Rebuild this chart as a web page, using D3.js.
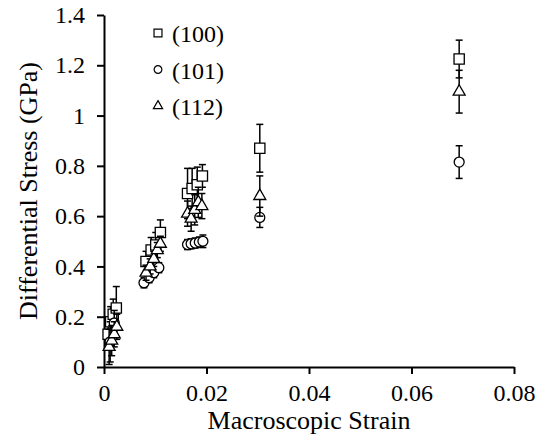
<!DOCTYPE html>
<html>
<head>
<meta charset="utf-8">
<script src="https://cdn.jsdelivr.net/npm/d3@7"></script>
<style>
  body { margin: 0; background: #fff; }
</style>
</head>
<body>
<div id="chart"></div>
<script>
// === DATA ===
const xTicks = [0, 0.02, 0.04, 0.06, 0.08];
const yTicks = [0, 0.2, 0.4, 0.6, 0.8, 1, 1.2, 1.4];

// (100) squares
const strain100 = [0.0008, 0.0013, 0.0018, 0.0024, 0.0082, 0.0092, 0.0101, 0.0110, 0.0163, 0.0172, 0.0182, 0.0192, 0.0304, 0.0693];
const stress100 = [0.13, 0.18, 0.21, 0.235, 0.42, 0.465, 0.485, 0.535, 0.69, 0.71, 0.725, 0.76, 0.87, 1.225];
const err100    = [0.05, 0.06, 0.06, 0.085, 0.04, 0.05, 0.05, 0.05, 0.1, 0.08, 0.07, 0.045, 0.095, 0.075];

// (101) circles
const strain101 = [0.0012, 0.0020, 0.0078, 0.0088, 0.0097, 0.0107, 0.0163, 0.0170, 0.0178, 0.0186, 0.0193, 0.0304, 0.0693];
const stress101 = [0.10, 0.175, 0.335, 0.355, 0.375, 0.395, 0.487, 0.49, 0.493, 0.497, 0.50, 0.595, 0.815];
const err101    = [0.08, 0.05, 0.02, 0.02, 0.02, 0.02, 0.02, 0.02, 0.02, 0.02, 0.025, 0.04, 0.065];

// (112) triangles
const strain112 = [0.0010, 0.0015, 0.0020, 0.0025, 0.0082, 0.0090, 0.0097, 0.0104, 0.0110, 0.0163, 0.0170, 0.0177, 0.0184, 0.0191, 0.0304, 0.0693];
const stress112 = [0.08, 0.105, 0.13, 0.16, 0.375, 0.40, 0.43, 0.465, 0.49, 0.61, 0.59, 0.625, 0.655, 0.64, 0.68, 1.095];
const err112    = [0.07, 0.06, 0.05, 0.05, 0.03, 0.03, 0.03, 0.03, 0.03, 0.05, 0.05, 0.06, 0.06, 0.05, 0.08, 0.085];

const seriesNames = ["(100)", "(101)", "(112)"];
const seriesShapes = [d3.symbolSquare, d3.symbolCircle, d3.symbolTriangle];
const seriesSizes = [105, 78, 62];

const series = [
  {name: seriesNames[0], x: strain100, y: stress100, e: err100},
  {name: seriesNames[1], x: strain101, y: stress101, e: err101},
  {name: seriesNames[2], x: strain112, y: stress112, e: err112}
];

const FONT = "'Liberation Serif', 'Times New Roman', serif";

// === LAYOUT ===
const W = 550, H = 443;
const margin = {top: 15, right: 36, bottom: 76, left: 104};

const svg = d3.select("#chart").append("svg").attr("width", W).attr("height", H);

const x = d3.scaleLinear().domain([0, 0.08]).range([margin.left, W - margin.right]);
const y = d3.scaleLinear().domain([0, 1.4]).range([H - margin.bottom, margin.top]);

// === AXES ===
const xAxis = svg.append("g")
  .attr("transform", `translate(0,${H - margin.bottom})`)
  .call(d3.axisBottom(x).tickValues(xTicks).tickSize(7).tickSizeOuter(0).tickPadding(10)
    .tickFormat(d => d === 0 ? "0" : d3.format(".2f")(d)));
const yAxis = svg.append("g")
  .attr("transform", `translate(${margin.left},0)`)
  .call(d3.axisLeft(y).tickValues(yTicks).tickSize(7).tickSizeOuter(0).tickPadding(12)
    .tickFormat(d => d === 0 || d === 1 ? String(d) : d3.format(".1f")(d)));

[xAxis, yAxis].forEach(g => {
  g.selectAll("path, line").attr("stroke", "#000").attr("stroke-width", 2);
  g.selectAll("text").style("font-family", FONT).style("font-size", "24px").attr("fill", "#000");
});

svg.append("text")
  .attr("x", (margin.left + W - margin.right) / 2)
  .attr("y", 429)
  .attr("text-anchor", "middle")
  .style("font-family", FONT).style("font-size", "26px")
  .text("Macroscopic Strain");

svg.append("text")
  .attr("transform", `translate(37,${(margin.top + H - margin.bottom) / 2}) rotate(-90)`)
  .attr("text-anchor", "middle")
  .style("font-family", FONT).style("font-size", "26px")
  .text("Differential Stress (GPa)");

// === POINTS & ERROR BARS ===
const cap = 3.5;
series.forEach((s, k) => {
  const pts = s.x.map((v, i) => ({x: v, y: s.y[i], e: s.e[i]}));
  const g = svg.append("g");
  const eb = g.selectAll("g.eb").data(pts).join("g").attr("class", "eb")
    .attr("stroke", "#000").attr("stroke-width", 1.5);
  eb.append("line")
    .attr("x1", d => x(d.x)).attr("x2", d => x(d.x))
    .attr("y1", d => y(Math.max(0, d.y - d.e))).attr("y2", d => y(d.y + d.e));
  eb.append("line")
    .attr("x1", d => x(d.x) - cap).attr("x2", d => x(d.x) + cap)
    .attr("y1", d => y(d.y + d.e)).attr("y2", d => y(d.y + d.e));
  eb.append("line")
    .attr("x1", d => x(d.x) - cap).attr("x2", d => x(d.x) + cap)
    .attr("y1", d => y(Math.max(0, d.y - d.e))).attr("y2", d => y(Math.max(0, d.y - d.e)));

  const sym = d3.symbol().type(seriesShapes[k]).size(seriesSizes[k]);
  g.selectAll("path.m").data(pts).join("path").attr("class", "m")
    .attr("d", sym)
    .attr("transform", d => `translate(${x(d.x)},${y(d.y)})`)
    .attr("fill", "#fff").attr("stroke", "#000").attr("stroke-width", 1.3);
});

// === LEGEND ===
const legend = svg.append("g");
seriesNames.forEach((n, k) => {
  const ly = 33 + k * 36.5;
  legend.append("path")
    .attr("d", d3.symbol().type(seriesShapes[k]).size(seriesSizes[k] * 0.6)())
    .attr("transform", `translate(158,${ly})`)
    .attr("fill", "#fff").attr("stroke", "#000").attr("stroke-width", 1.2);
  legend.append("text")
    .attr("x", 172).attr("y", ly + 9)
    .style("font-family", FONT).style("font-size", "24px")
    .text(n);
});
</script>
</body>
</html>
